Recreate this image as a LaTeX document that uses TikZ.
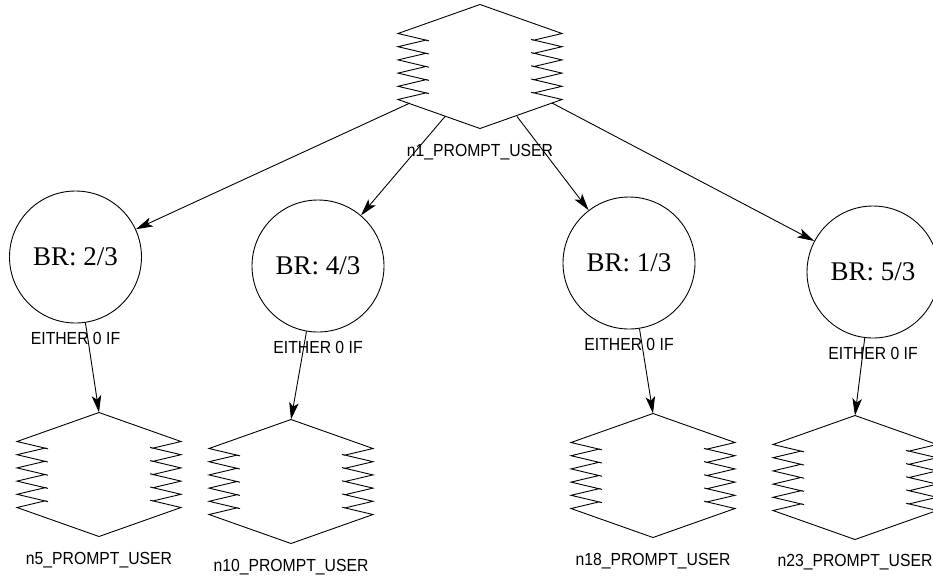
\documentclass[tikz,border=0pt]{standalone}
\usepackage{fontspec}
\setmainfont{Liberation Serif}
\newfontfamily\lblfont[FakeStretch=0.9]{Liberation Sans}
\usetikzlibrary{calc,arrows.meta}

% outline of a prompt node: pointed top and bottom, serrated sides
\newcommand{\zigoutline}[1]{%
  \draw[shapeline] ($(#1.center)+(0,-62)$) -- ($(#1.center)+(-82,-33)$)
    \foreach \k in {1,...,5} {
      -- ($(#1.center)+(-54,{-33+(\k-0.5)*13.2})$)
      -- ($(#1.center)+(-82,{-33+\k*13.2})$) }
    -- ($(#1.center)+(0,62)$) -- ($(#1.center)+(82,33)$)
    \foreach \k in {1,...,5} {
      -- ($(#1.center)+(54,{33-(\k-0.5)*13.2})$)
      -- ($(#1.center)+(82,{33-\k*13.2})$) }
    -- cycle;
  % slight overshoot of the strokes at each inner point of the teeth
  \foreach \k in {1,...,5} {
    \draw[shapeline] ($(#1.center)+(-54,{-33+(\k-0.5)*13.2})$) -- ++(3,0.75);
    \draw[shapeline] ($(#1.center)+(54,{-33+(\k-0.5)*13.2})$) -- ++(-3,-0.75);
  }}

\begin{document}
\begin{tikzpicture}[x=1pt,y=-1pt,
  shapeline/.style={line width=0.9pt, line join=miter},
  zig/.style={minimum width=164pt, minimum height=124pt, inner sep=0pt, outer sep=0pt},
  brnode/.style={circle, draw, line width=0.9pt, minimum size=132pt, inner sep=0pt,
                 font=\fontsize{27}{30}\selectfont},
  lbl/.style={inner sep=0pt, font=\fontsize{17.5}{19}\lblfont},
  conn/.style={line width=0.9pt, -{Stealth[length=17pt,width=9.5pt,inset=4pt]}},
]
\clip (0,0) rectangle (933,579);
\fill[white] (0,0) rectangle (933,579);

% prompt nodes
\node[zig] (n1)  at (480,66.5)  {};
\node[zig] (n5)  at (99,474.5)  {};
\node[zig] (n10) at (291,481.5) {};
\node[zig] (n18) at (653,475.5) {};
\node[zig] (n23) at (855,477.5) {};
\zigoutline{n1}
\zigoutline{n5}
\zigoutline{n10}
\zigoutline{n18}
\zigoutline{n23}

\node[lbl] (n1l)  at ($(n1.south)+(0,24)$)  {n1\_PROMPT\_USER};
\node[lbl] (n5l)  at ($(n5.south)+(0,24)$)  {n5\_PROMPT\_USER};
\node[lbl] (n10l) at ($(n10.south)+(0,24)$) {n10\_PROMPT\_USER};
\node[lbl] (n18l) at ($(n18.south)+(0,24)$) {n18\_PROMPT\_USER};
\node[lbl] (n23l) at ($(n23.south)+(0,23)$) {n23\_PROMPT\_USER};

% branch nodes
\node[brnode] (c1) at (75.5,257) {BR: 2/3};
\node[brnode] (c2) at (318,266)  {BR: 4/3};
\node[brnode] (c3) at (629,263)  {BR: 1/3};
\node[brnode] (c4) at (873,272)  {BR: 5/3};

\node[lbl] (e1) at ($(c1.south)+(0,15)$) {EITHER 0 IF};
\node[lbl] (e2) at ($(c2.south)+(0,15)$) {EITHER 0 IF};
\node[lbl] (e3) at ($(c3.south)+(0,15)$) {EITHER 0 IF};
\node[lbl] (e4) at ($(c4.south)+(0,15)$) {EITHER 0 IF};

% exit points on the lower edges of n1
\coordinate (p1) at ($(n1.center)+(-70,36.5)$);
\coordinate (p2) at ($(n1.center)+(-35,50)$);
\coordinate (p3) at ($(n1.center)+(37,50)$);
\coordinate (p4) at ($(n1.center)+(72,36.5)$);

% connectors
\draw[conn] (p1) -- (c1);
\draw[conn] (p2) -- (c2);
\draw[conn] (p3) -- (c3);
\draw[conn] (p4) -- (c4);
\draw[conn] (c1) -- (n5.north);
\draw[conn] (c2) -- (n10.north);
\draw[conn] (c3) -- (n18.north);
\draw[conn] (c4) -- (n23.north);
\end{tikzpicture}
\end{document}
